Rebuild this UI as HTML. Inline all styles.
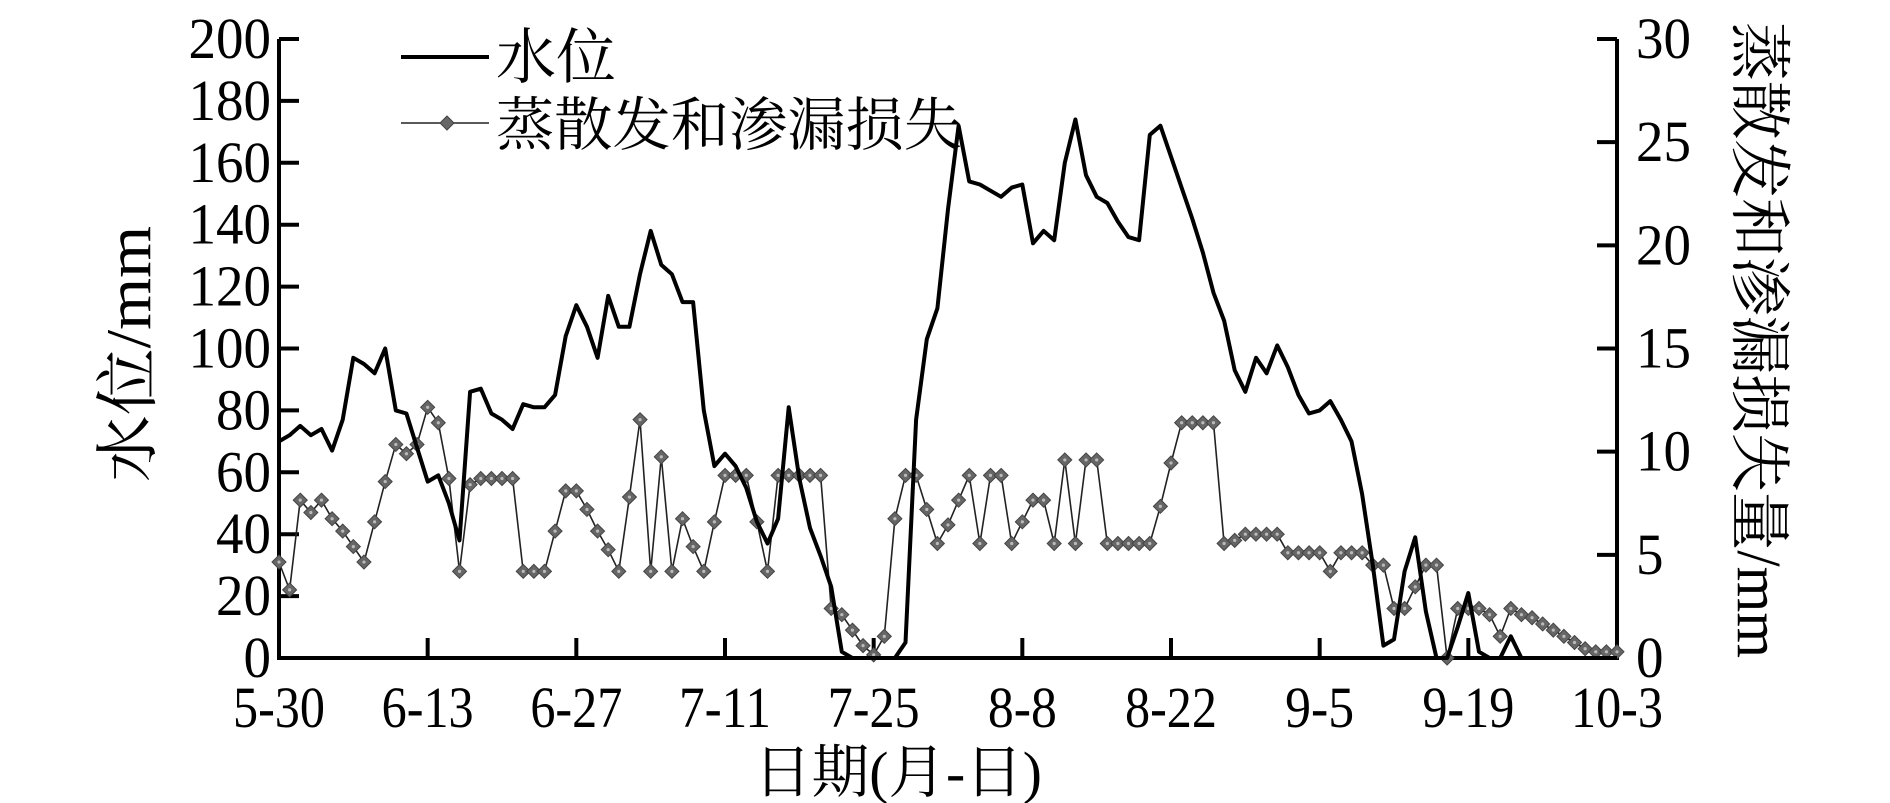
<!DOCTYPE html>
<html><head><meta charset="utf-8">
<style>
html,body{margin:0;padding:0;background:#fff;}
svg{display:block;}
text{font-family:"Liberation Serif","Noto Serif CJK SC","Noto Sans CJK SC",serif;fill:#000;}
</style></head>
<body>
<svg id="c" width="1890" height="803" viewBox="0 0 1890 803" xmlns="http://www.w3.org/2000/svg">
<g id="axes" stroke="#000" stroke-width="4" fill="none">
<polyline points="279,39 279,658 1617,658 1617,39"/>
</g>
<g id="ticks"></g>
<g id="series"></g>
<line x1="401" y1="57" x2="489" y2="57" stroke="#000" stroke-width="4"/>
<text x="496" y="78" font-size="60">水位</text>
<line x1="401" y1="123" x2="489" y2="123" stroke="#222" stroke-width="1.6"/>
<polygon points="447,116 454,123 447,130 440,123" fill="#666" stroke="#444" stroke-width="1"/>
<text x="496" y="145" font-size="58" textLength="466" lengthAdjust="spacingAndGlyphs">蒸散发和渗漏损失</text>
<text x="898" y="792" font-size="58" text-anchor="middle" textLength="288" lengthAdjust="spacingAndGlyphs">日期(月-日)</text>
<text transform="translate(150,354) rotate(-90)" font-size="64" text-anchor="middle" textLength="256" lengthAdjust="spacingAndGlyphs">水位/mm</text>
<text transform="translate(1738,340) rotate(90)" font-size="62" text-anchor="middle" textLength="636" lengthAdjust="spacingAndGlyphs">蒸散发和渗漏损失量/mm</text>
</svg>
<script>
(function(){
var NS="http://www.w3.org/2000/svg";
function el(t,a,p,txt){var e=document.createElementNS(NS,t);for(var k in a)e.setAttribute(k,a[k]);if(txt!=null)e.textContent=txt;p.appendChild(e);return e;}
var ticks=document.getElementById('ticks'),ser=document.getElementById('series');
function X(d){return 279+d*1338/126;}
function Y(v){return 658-v*3.095;}
for(var v=0;v<=200;v+=20){var y=Y(v);
 if(v>0)el('line',{x1:279,y1:y,x2:299,y2:y,stroke:'#000','stroke-width':4},ticks);
 var s=String(v);el('text',{x:271,y:y+19,'font-size':58,'text-anchor':'end',textLength:27.5*s.length,lengthAdjust:'spacingAndGlyphs'},ticks,s);}
for(var r=0;r<=30;r+=5){var y=Y(r*200/30);
 if(r>0)el('line',{x1:1597,y1:y,x2:1617,y2:y,stroke:'#000','stroke-width':4},ticks);
 var s=String(r);el('text',{x:1636,y:y+19,'font-size':58,textLength:27.5*s.length,lengthAdjust:'spacingAndGlyphs'},ticks,s);}
var lab=['5-30','6-13','6-27','7-11','7-25','8-8','8-22','9-5','9-19','10-3'];
for(var i=0;i<10;i++){var x=X(i*14);
 if(i>0&&i<9)el('line',{x1:x,y1:658,x2:x,y2:638,stroke:'#000','stroke-width':4},ticks);
 el('text',{x:x,y:727,'font-size':58,'text-anchor':'middle',textLength:23*lab[i].length,lengthAdjust:'spacingAndGlyphs'},ticks,lab[i]);}
var ev=[31,22,51,47,51,45,41,36,31,44,57,69,66,69,81,76,58,28,56,58,58,58,58,28,28,28,41,54,54,48,41,35,28,52,77,28,65,28,45,36,28,44,59,59,59,44,28,59,59,59,59,59,16,14,9,4,1,7,45,59,59,48,37,43,51,59,37,59,59,37,44,51,51,37,64,37,64,64,37,37,37,37,37,49,63,76,76,76,76,37,38,40,40,40,40,34,34,34,34,28,34,34,34,30,30,16,16,23,30,30,0,16,16,16,14,7,16,14,13,11,9,7,5,3,2,2,2];
var pts=ev.map(function(v,d){return X(d).toFixed(1)+','+Y(v).toFixed(1);}).join(' ');
el('polyline',{points:pts,fill:'none',stroke:'#222','stroke-width':1.6},ser);
ev.forEach(function(v,d){var x=X(d),y=Y(v);
 el('polygon',{points:x+','+(y-7)+' '+(x+7)+','+y+' '+x+','+(y+7)+' '+(x-7)+','+y,fill:'#666',stroke:'#444','stroke-width':1},ser);
 el('circle',{cx:x,cy:y,r:1.6,fill:'#bbb'},ser);});
var wl=[70,72,75,72,74,67,77,97,95,92,100,80,79,68,57,59,50,38,86,87,79,77,74,82,81,81,85,104,114,107,97,117,107,107,124,138,127,124,115,115,80,62,66,62,55,44,37,45,81,58,42,33,23,2,0,0,0,0,0,5,77,103,113,145,172,154,153,151,149,152,153,134,138,135,160,174,156,149,147,141,136,135,169,172,162,152,142,131,118,109,93,86,97,92,101,94,85,79,80,83,77,70,53,30,4,6,28,39,15,0,0,10,21,2,0,0,7,0];
var p2=wl.map(function(v,d){return X(d).toFixed(1)+','+Y(v).toFixed(1);}).join(' ');
el('polyline',{points:p2,fill:'none',stroke:'#000','stroke-width':4,'stroke-linejoin':'round'},ser);
el('polyline',{points:X(122.5)+','+Y(0)+' '+X(126)+','+Y(0),fill:'none',stroke:'#000','stroke-width':4},ser);
})();
</script>
</body></html>
